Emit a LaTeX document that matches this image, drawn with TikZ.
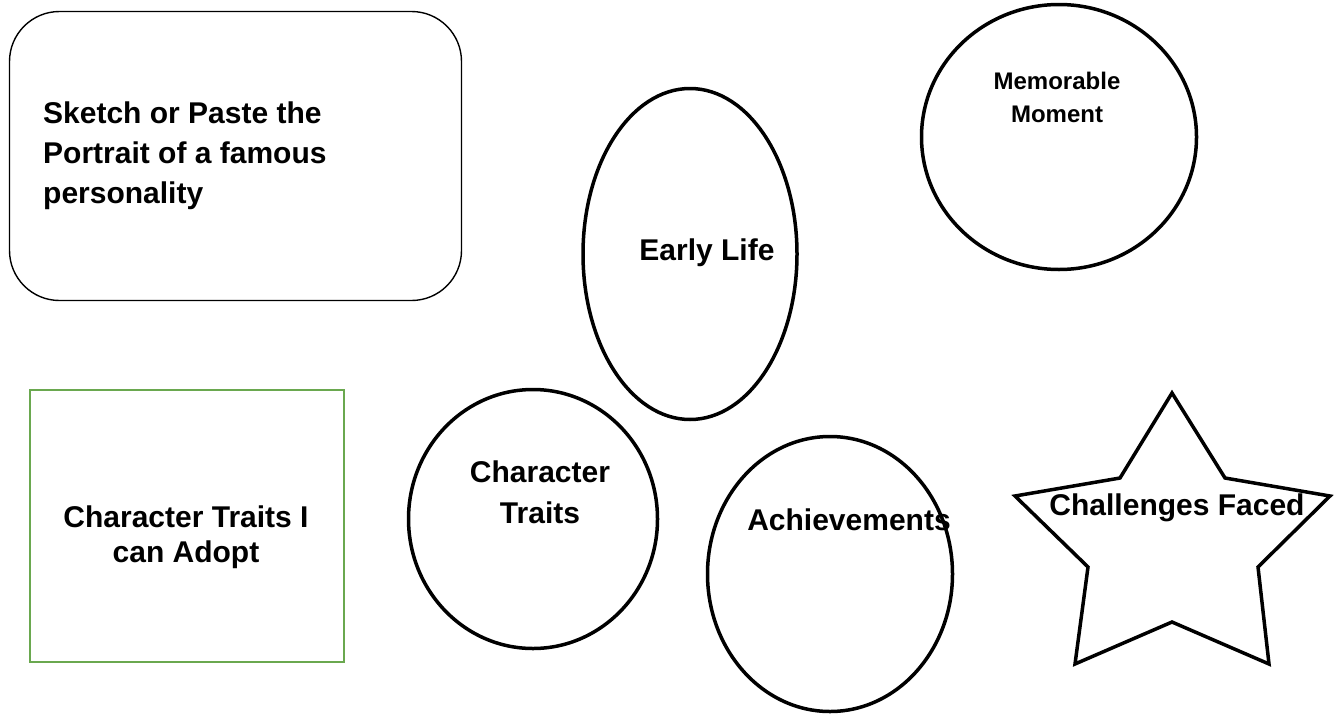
\documentclass[tikz,border=0pt]{standalone}
\usepackage{fontspec}
\setmainfont{Liberation Sans}
\usetikzlibrary{shapes.geometric}
\definecolor{boxgreen}{HTML}{6AA84F}
\tikzset{
  thickshape/.style={draw=black, line width=3.5pt, ellipse, inner sep=0pt},
  lbl/.style={font=\bfseries\fontsize{30}{40}\selectfont, inner sep=0pt, align=center},
}
\begin{document}
\begin{tikzpicture}[x=1pt,y=-1pt]
\fill[white] (0,0) rectangle (1338,715);
\useasboundingbox (0,0) rectangle (1338,715);

% portrait box
\node[draw=black, line width=1.4pt, rounded corners=50pt, minimum width=452pt, minimum height=289pt, inner sep=0pt] (portrait) at (235.5,156) {};
\node[lbl, align=left, anchor=west] (portraittxt) at (43,156) {Sketch or Paste the\\Portrait of a famous\\personality};

% green box
\node[draw=boxgreen, line width=2pt, minimum width=314pt, minimum height=272pt, inner sep=0pt] (adopt) at (186.5,526) {};
\node[lbl, font=\bfseries\fontsize{30}{35}\selectfont] (adopttxt) at (186,537) {Character Traits I\\can Adopt};

% early life ellipse
\node[thickshape, minimum width=214pt, minimum height=331pt] (early) at (690,254) {};
\node[lbl] (earlytxt) at (707,253) {Early Life};

% memorable moment circle
\node[thickshape, minimum width=275pt, minimum height=265pt] (memo) at (1059,137) {};
\node[lbl, font=\bfseries\fontsize{24}{33}\selectfont] (memotxt) at (1057,97) {Memorable\\Moment};

% character traits circle
\node[thickshape, minimum width=249pt, minimum height=259pt] (traits) at (533,519) {};
\node[lbl, font=\bfseries\fontsize{30}{41}\selectfont] (traitstxt) at (540,492) {Character\\Traits};

% achievements circle
\node[thickshape, minimum width=245pt, minimum height=275pt] (achieve) at (830,574) {};
\node[lbl] (achievetxt) at (849,520) {Achievements};

% star
\coordinate (s1) at (1172,393);
\coordinate (s2) at (1225,478);
\coordinate (s3) at (1330,496);
\coordinate (s4) at (1258,567);
\coordinate (s5) at (1269,664);
\coordinate (s6) at (1172,622);
\coordinate (s7) at (1075,664);
\coordinate (s8) at (1088,567);
\coordinate (s9) at (1015,496);
\coordinate (s10) at (1120,478);
\draw[line width=3.5pt, line join=miter] (s1) -- (s2) -- (s3) -- (s4) -- (s5) -- (s6) -- (s7) -- (s8) -- (s9) -- (s10) -- cycle;
\node[lbl] (startxt) at (1177,508) {Challenges Faced};
\end{tikzpicture}
\end{document}
